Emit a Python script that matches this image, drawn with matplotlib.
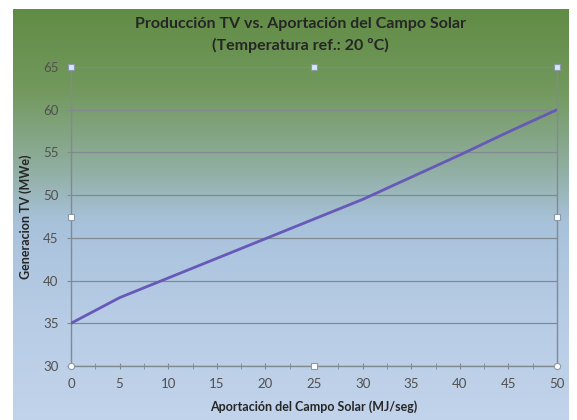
import numpy as np
import matplotlib.pyplot as plt
from matplotlib.colors import LinearSegmentedColormap

plt.rcParams['font.family'] = ['Lato', 'DejaVu Sans']

# datos: aportación del campo solar (MJ/seg) vs generación TV (MWe)
aportacion = [0, 5, 10, 15, 20, 25, 30, 35, 40, 45, 50]
generacion = [35.0, 38.0, 40.3, 42.6, 44.9, 47.2, 49.5, 52.1, 54.7, 57.4, 60.0]

x_ticks = [0, 5, 10, 15, 20, 25, 30, 35, 40, 45, 50]
y_ticks = [30, 35, 40, 45, 50, 55, 60, 65]

fig = plt.figure(figsize=(5.77, 4.20), dpi=100)
fig.patch.set_facecolor('white')

# fondo degradado verde -> azul claro
bg = fig.add_axes([13 / 577, 0, (569 - 13) / 577, (420 - 9) / 420])
cmap = LinearSegmentedColormap.from_list('fondo', [
    (0.00, (0.38, 0.55, 0.27)),
    (0.20, (0.45, 0.60, 0.37)),
    (0.38, (0.56, 0.68, 0.62)),
    (0.52, (0.66, 0.76, 0.86)),
    (0.75, (0.72, 0.80, 0.90)),
    (1.00, (0.76, 0.83, 0.92)),
])
grad = np.linspace(0, 1, 256).reshape(-1, 1)
bg.imshow(grad, aspect='auto', cmap=cmap, extent=[0, 1, 0, 1], origin='upper')
bg.set_axis_off()

ax = fig.add_axes([71 / 577, 54 / 420, (557 - 71) / 577, (366 - 67) / 420])
ax.set_facecolor('none')

ax.plot(aportacion, generacion, color='#6659b8', lw=2, solid_capstyle='round', zorder=3)

ax.set_xlim(0, 50)
ax.set_ylim(30, 65)
ax.set_xticks(x_ticks)
ax.set_xticks(np.arange(2.5, 50, 5), minor=True)
ax.set_yticks(y_ticks)
ax.yaxis.grid(True, color='#808a90', lw=0.9)
ax.set_axisbelow(True)

for s in ['left', 'right', 'bottom']:
    ax.spines[s].set_color('#808a90')
    ax.spines[s].set_linewidth(1)
ax.spines['top'].set_visible(False)

ax.tick_params(axis='x', which='both', direction='inout', length=4, color='#808a90',
               labelsize=9.5, labelcolor='#505050', pad=7)
ax.tick_params(axis='y', direction='out', length=3, color='#808a90',
               labelsize=9.5, labelcolor='#505050', pad=6)

ax.set_xlabel('Aportación del Campo Solar (MJ/seg)', fontsize=9, fontweight='bold',
              color='#262626', labelpad=7)
ax.set_ylabel('Generacion TV (MWe)', fontsize=9, fontweight='bold',
              color='#262626', labelpad=8)

fig.text(300 / 577, 1 - 24 / 420, 'Producción TV vs. Aportación del Campo Solar',
         ha='center', va='center', fontsize=11.5, fontweight='bold', color='#262626')
fig.text(300 / 577, 1 - 45 / 420, '(Temperatura ref.: 20 ºC)',
         ha='center', va='center', fontsize=11.5, fontweight='bold', color='#262626')

# tiradores de selección del área de trazado
tr = ax.transAxes
kw = dict(transform=tr, clip_on=False, zorder=5, markersize=4.5,
          markeredgecolor='#8a9aa8', markeredgewidth=0.8)
for xp in [0, 0.5, 1]:
    ax.plot(xp, 1, 's', markerfacecolor='#d8e6f4', **kw)
for xp in [0, 1]:
    ax.plot(xp, 0.5, 's', markerfacecolor='white', **kw)
    ax.plot(xp, 0, 'o', markerfacecolor='white', **kw)
ax.plot(0.5, 0, 's', markerfacecolor='white', **kw)

fig.savefig('out.png', dpi=100)
